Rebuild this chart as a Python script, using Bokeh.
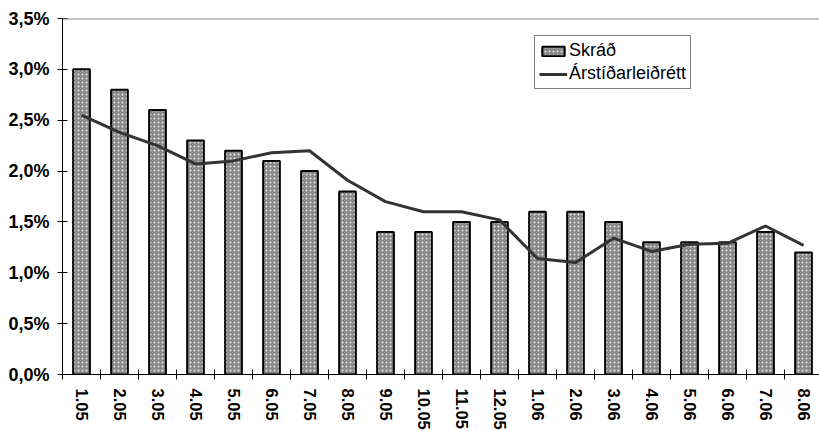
from bokeh.plotting import figure
from bokeh.models import (ColumnDataSource, FixedTicker, CustomJSTickFormatter,
                          Span, Range1d)
from bokeh.embed import file_html
from bokeh.resources import INLINE

# ---- data ----
months = ["1.05", "2.05", "3.05", "4.05", "5.05", "6.05", "7.05", "8.05", "9.05", "10.05",
          "11.05", "12.05", "1.06", "2.06", "3.06", "4.06", "5.06", "6.06", "7.06", "8.06"]
skrad = [3.0, 2.8, 2.6, 2.3, 2.2, 2.1, 2.0, 1.8, 1.4, 1.4,
         1.5, 1.5, 1.6, 1.6, 1.5, 1.3, 1.3, 1.3, 1.4, 1.2]
arstidarleidrett = [2.55, 2.38, 2.25, 2.07, 2.10, 2.18, 2.20, 1.91, 1.70, 1.60,
                    1.60, 1.52, 1.14, 1.10, 1.34, 1.21, 1.28, 1.29, 1.46, 1.27]
y_ticks = [0, 0.5, 1.0, 1.5, 2.0, 2.5, 3.0, 3.5]

xs = list(range(len(months)))
src = ColumnDataSource(dict(x=xs, skrad=skrad, adj=arstidarleidrett))

p = figure(frame_width=760, frame_height=356,
           x_range=Range1d(-0.5, 19.5), y_range=Range1d(0, 3.5),
           output_backend="svg", toolbar_location=None,
           min_border_left=62, min_border_top=18, min_border_right=0,
           min_border_bottom=10, background_fill_color="white",
           border_fill_color="white")
p.outline_line_color = None
p.xgrid.visible = False
p.ygrid.visible = False

p.add_layout(Span(location=3.5, dimension="width", line_color="#8a8a8a", line_width=2))

p.vbar(x="x", top="skrad", width=0.44, source=src, fill_color="#878787",
       line_color="black", line_width=2, hatch_pattern="dot", hatch_color="white",
       hatch_scale=4, hatch_weight=1, hatch_alpha=0.8, legend_label="Skráð")
p.line(x="x", y="adj", source=src, line_color="#333333", line_width=3,
       legend_label="Árstíðarleiðrétt")

# y axis
ya = p.yaxis[0]
ya.ticker = FixedTicker(ticks=y_ticks)
ya.formatter = CustomJSTickFormatter(code="return tick.toFixed(1).replace('.', ',') + '%';")
ya.major_tick_in = 5
ya.major_tick_out = 5
ya.minor_tick_in = 0
ya.minor_tick_out = 0
ya.major_label_standoff = 8
ya.axis_line_color = "black"
ya.major_label_text_font = "Liberation Sans"
ya.major_label_text_font_style = "bold"
ya.major_label_text_font_size = "18px"
ya.major_label_text_color = "black"

# x axis
xa = p.xaxis[0]
xa.ticker = FixedTicker(ticks=xs, minor_ticks=[i + 0.5 for i in range(-1, len(months))])
xa.formatter = CustomJSTickFormatter(args=dict(labels=months),
                                     code="return labels[Math.round(tick)];")
xa.major_tick_in = 0
xa.major_tick_out = 0
xa.minor_tick_in = 5
xa.minor_tick_out = 5
xa.major_label_standoff = 9
xa.major_label_orientation = "vertical"
xa.axis_line_color = "black"
xa.major_label_text_font = "Liberation Sans"
xa.major_label_text_font_style = "bold"
xa.major_label_text_font_size = "16.5px"
xa.major_label_text_color = "black"

lg = p.legend[0]
lg.location = (472, 285)
lg.label_text_font = "Liberation Sans"
lg.label_text_font_size = "18px"
lg.label_text_color = "black"
lg.border_line_color = "black"
lg.border_line_width = 1
lg.background_fill_color = "white"
lg.background_fill_alpha = 1
lg.padding = 4
lg.spacing = 2
lg.margin = 0
lg.glyph_width = 28
lg.glyph_height = 12
lg.label_standoff = 2
lg.label_height = 20

html = file_html(p, INLINE)
# the reference is cropped at its right and bottom edges: clip instead of scrolling
html = html.replace("</head>", "<style>html, body { overflow: hidden; }</style></head>", 1)
open("out.html", "w").write(html)
